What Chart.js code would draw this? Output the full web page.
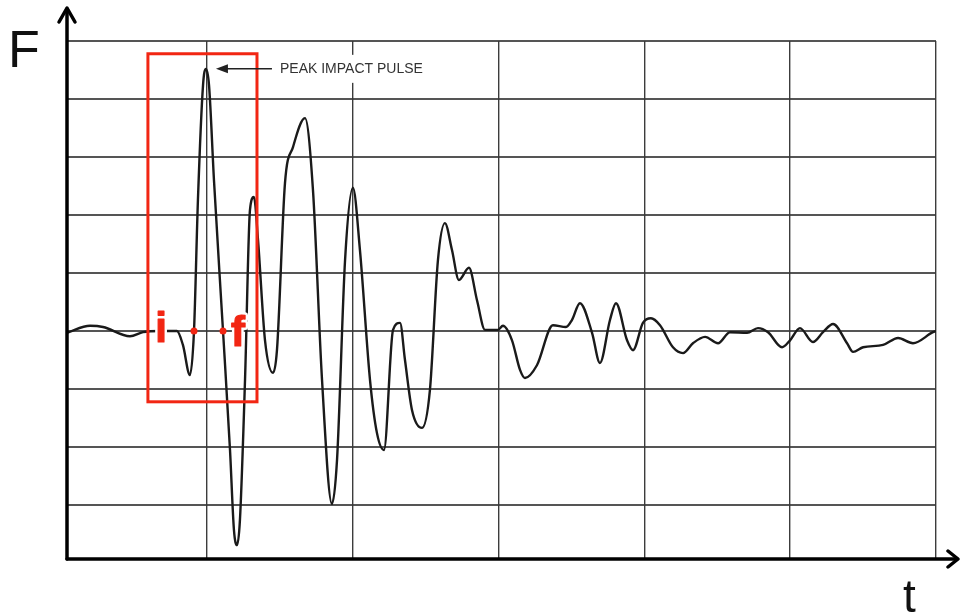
<!DOCTYPE html>
<html>
<head>
<meta charset="utf-8">
<script src="https://cdn.jsdelivr.net/npm/chart.js@4.4.1/dist/chart.umd.min.js"></script>
<style>
  html, body { margin: 0; padding: 0; background: #ffffff; }
  #wrap { width: 960px; height: 615px; }
</style>
</head>
<body>
<div id="wrap"><canvas id="c" width="960" height="615"></canvas></div>
<script>
// ---- data (time t, force F) ----
const tValues = [0.40, 1.98, 2.87, 4.72, 5.61, 6.78, 7.94, 8.35, 8.83, 9.11, 9.38, 9.73, 9.93, 10.14, 10.48, 11.10, 11.58, 11.85, 12.06, 12.26, 12.61, 12.95, 13.22, 13.50, 13.98, 14.53, 14.80, 15.35, 15.90, 16.72, 17.27, 17.89, 18.57, 18.92, 19.47, 20.01, 20.49, 21.18, 21.66, 22.14, 22.76, 23.24, 23.58, 24.06, 24.75, 25.29, 25.84, 26.32, 26.80, 27.28, 27.97, 28.52, 29.07, 29.96, 30.30, 30.92, 31.47, 31.81, 32.63, 33.73, 34.62, 35.03, 35.58, 36.41, 36.95, 37.64, 38.05, 38.81, 39.22, 39.90, 40.45, 41.07, 41.96, 42.65, 43.33, 44.16, 45.05, 45.87, 47.04, 47.79, 48.48, 49.44, 49.99, 50.67, 51.56, 52.25, 52.94, 53.90, 54.31, 55.00, 56.37, 57.40, 58.42, 59.79, 60.00];
const fValues = [-0.03, 0.09, 0.07, -0.09, -0.02, 0.00, 0.00, -0.24, -0.76, 0.00, 2.26, 4.24, 4.52, 4.24, 2.60, 0.00, -2.05, -3.43, -3.69, -3.26, -0.84, 2.09, 2.31, 1.57, -0.16, -0.72, -0.33, 2.55, 3.17, 3.67, 2.43, -0.84, -2.98, -2.22, 1.22, 2.47, 1.40, -0.84, -1.76, -2.05, 0.02, 0.14, -0.50, -1.36, -1.67, -1.02, 1.22, 1.86, 1.40, 0.88, 1.09, 0.53, 0.02, 0.02, 0.09, -0.16, -0.67, -0.81, -0.59, 0.10, 0.07, 0.19, 0.48, -0.03, -0.55, 0.19, 0.48, -0.16, -0.33, 0.14, 0.22, 0.10, -0.28, -0.38, -0.21, -0.10, -0.21, -0.02, -0.03, 0.05, -0.02, -0.28, -0.16, 0.05, -0.19, -0.02, 0.12, -0.21, -0.36, -0.28, -0.24, -0.12, -0.21, -0.02, 0.00];
const markerT = [9.11, 11.10];
const markerF = [0, 0];
const markerLabels = ['i', 'f'];
const xGridTicks = [10, 20, 30, 40, 50, 60];
const yGridTicks = [-3, -2, -1, 0, 1, 2, 3, 4, 5];
const tMin = 0.4, tMax = 60, fMin = -3.93, fMax = 5;
const boxT = [5.95, 13.43];
const boxF = [-1.22, 4.78];
const peakLabel = 'PEAK IMPACT PULSE';
const yAxisTitle = 'F';
const xAxisTitle = 't';

const curve = tValues.map((t, i) => ({ x: t, y: fValues[i] }));
const markers = markerT.map((t, i) => ({ x: t, y: markerF[i] }));

const overlay = {
  id: 'overlay',
  afterDatasetsDraw(chart) {
    const ctx = chart.ctx;
    const xs = chart.scales.x, ys = chart.scales.y;
    // red box
    ctx.save();
    ctx.strokeStyle = 'rgb(242,38,19)';
    ctx.lineWidth = 3;
    const bx0 = xs.getPixelForValue(boxT[0]), bx1 = xs.getPixelForValue(boxT[1]);
    const by0 = ys.getPixelForValue(boxF[1]), by1 = ys.getPixelForValue(boxF[0]);
    ctx.strokeRect(bx0, by0, bx1 - bx0, by1 - by0);
    // i / f labels
    ctx.font = 'bold 42px "Liberation Sans", Arial, sans-serif';
    ctx.textAlign = 'center';
    ctx.textBaseline = 'alphabetic';
    ctx.lineJoin = 'round';
    const offs = [[-33, 11], [15, 15]];
    markerLabels.forEach((lab, i) => {
      const px = xs.getPixelForValue(markerT[i]) + offs[i][0];
      const py = ys.getPixelForValue(markerF[i]) + offs[i][1];
      ctx.strokeStyle = '#ffffff';
      ctx.lineWidth = 6;
      ctx.strokeText(lab, px, py);
      ctx.fillStyle = 'rgb(242,38,19)';
      ctx.strokeStyle = 'rgb(242,38,19)';
      ctx.lineWidth = 1.2;
      ctx.fillText(lab, px, py);
      ctx.strokeText(lab, px, py);
    });
    // peak annotation
    let pk = 0;
    fValues.forEach((v, i) => { if (v > fValues[pk]) pk = i; });
    const ppx = xs.getPixelForValue(tValues[pk]);
    const ppy = ys.getPixelForValue(fValues[pk]);
    ctx.font = '14px "Liberation Sans", Arial, sans-serif';
    ctx.textAlign = 'left';
    ctx.textBaseline = 'middle';
    const tx = ppx + 74;
    const tw = ctx.measureText(peakLabel).width;
    ctx.fillStyle = '#ffffff';
    ctx.fillRect(tx - 3, ppy - 14, tw + 6, 28);
    ctx.fillStyle = '#333333';
    ctx.fillText(peakLabel, tx, ppy);
    ctx.strokeStyle = '#222222';
    ctx.lineWidth = 1.5;
    ctx.beginPath();
    ctx.moveTo(ppx + 66, ppy);
    ctx.lineTo(ppx + 20, ppy);
    ctx.stroke();
    ctx.fillStyle = '#222222';
    ctx.beginPath();
    ctx.moveTo(ppx + 10, ppy);
    ctx.lineTo(ppx + 22, ppy - 4.5);
    ctx.lineTo(ppx + 22, ppy + 4.5);
    ctx.closePath();
    ctx.fill();
    ctx.restore();
  },
  afterDraw(chart) {
    const ctx = chart.ctx;
    const a = chart.chartArea;
    ctx.save();
    ctx.strokeStyle = '#000000';
    ctx.lineWidth = 3.5;
    ctx.lineCap = 'round';
    ctx.lineJoin = 'round';
    // y axis with arrow
    ctx.beginPath();
    ctx.moveTo(a.left, a.bottom);
    ctx.lineTo(a.left, a.top - 32);
    ctx.stroke();
    ctx.beginPath();
    ctx.moveTo(a.left - 8, a.top - 19);
    ctx.lineTo(a.left, a.top - 33);
    ctx.lineTo(a.left + 8, a.top - 19);
    ctx.stroke();
    // x axis with arrow
    ctx.beginPath();
    ctx.moveTo(a.left, a.bottom);
    ctx.lineTo(a.right + 21, a.bottom);
    ctx.stroke();
    ctx.beginPath();
    ctx.moveTo(a.right + 12, a.bottom - 8);
    ctx.lineTo(a.right + 22, a.bottom);
    ctx.lineTo(a.right + 12, a.bottom + 8);
    ctx.stroke();
    // axis titles
    ctx.fillStyle = '#111111';
    ctx.font = '52px "Liberation Sans", Arial, sans-serif';
    ctx.textAlign = 'left';
    ctx.textBaseline = 'alphabetic';
    ctx.fillText(yAxisTitle, 8, 67);
    ctx.font = '46px "Liberation Sans", Arial, sans-serif';
    ctx.fillText(xAxisTitle, 903, 612);
    ctx.restore();
  }
};

new Chart(document.getElementById('c'), {
  type: 'scatter',
  data: {
    datasets: [
      {
        data: curve,
        showLine: true,
        borderColor: '#1a1a1a',
        borderWidth: 2.4,
        pointRadius: 0,
        cubicInterpolationMode: 'monotone',
        fill: false,
        order: 2
      },
      {
        data: markers,
        showLine: false,
        pointRadius: 3.5,
        pointBackgroundColor: 'rgb(242,38,19)',
        pointBorderWidth: 0,
        order: 1
      }
    ]
  },
  plugins: [overlay],
  options: {
    responsive: false,
    animation: false,
    events: [],
    layout: { padding: { left: 67, right: 24, top: 41, bottom: 56 } },
    plugins: { legend: { display: false }, tooltip: { enabled: false } },
    scales: {
      x: {
        type: 'linear',
        min: tMin, max: tMax,
        afterBuildTicks: (s) => { s.ticks = xGridTicks.map(v => ({ value: v })); },
        ticks: { display: false },
        border: { display: false },
        grid: { color: '#3c3c3c', lineWidth: 1.4, drawTicks: false }
      },
      y: {
        type: 'linear',
        min: fMin, max: fMax,
        afterBuildTicks: (s) => { s.ticks = yGridTicks.map(v => ({ value: v })); },
        ticks: { display: false },
        border: { display: false },
        grid: { color: 'rgba(55,55,55,0.85)', lineWidth: 2, drawTicks: false }
      }
    }
  }
});
</script>
</body>
</html>
